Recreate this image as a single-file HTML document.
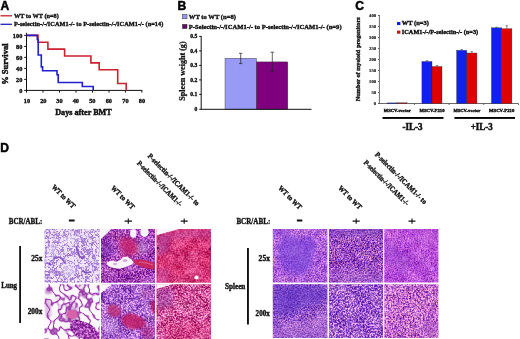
<!DOCTYPE html>
<html><head><meta charset="utf-8">
<style>
html,body{margin:0;padding:0;background:#fff;width:520px;height:339px;overflow:hidden}
svg{display:block;will-change:transform;filter:blur(0.3px)}
.s{font-family:"Liberation Serif",serif;font-weight:bold;fill:#111;stroke:#111;stroke-width:0.36px}
.L{font-family:"Liberation Sans",sans-serif;font-weight:bold;fill:#000;stroke:#000;stroke-width:0.5px}
</style></head><body>
<svg width="520" height="339" viewBox="0 0 520 339">
<rect width="520" height="339" fill="#fff"/>

<!-- ===== Panel A ===== -->
<text class="L" x="0.6" y="9.6" font-size="12.1">A</text>
<line x1="0.5" y1="15.8" x2="12" y2="15.8" stroke="#c2202c" stroke-width="1.3"/>
<text class="s" x="13.9" y="18.1" font-size="6.3" textLength="44.9" lengthAdjust="spacingAndGlyphs">WT to WT (n=8)</text>
<line x1="0.5" y1="24.3" x2="12" y2="24.3" stroke="#2020c0" stroke-width="1.3"/>
<text class="s" x="13.9" y="26.4" font-size="6.3" textLength="149.4" lengthAdjust="spacingAndGlyphs">P-selectin-/-/ICAM1-/- to P-selectin-/-/ICAM1-/- (n=14)</text>

<g stroke="#111" stroke-width="1" fill="none">
  <line x1="26.5" y1="32.8" x2="26.5" y2="90.9"/>
  <line x1="24.2" y1="90.4" x2="142.3" y2="90.4"/>
  <path d="M24.2,35.4H26.5M24.2,46.4H26.5M24.2,57.4H26.5M24.2,68.4H26.5M24.2,79.4H26.5"/>
  <path d="M43,90.4V92.6M59.5,90.4V92.6M76,90.4V92.6M92.5,90.4V92.6M109,90.4V92.6M125.4,90.4V92.6M141.9,90.4V92.6M26.5,90.4V92.6"/>
</g>
<g class="s" font-size="6.3" text-anchor="end">
  <text x="22.3" y="37.6">100</text>
  <text x="22.3" y="48.6">80</text>
  <text x="22.3" y="59.6">60</text>
  <text x="22.3" y="70.6">40</text>
  <text x="22.3" y="81.6">20</text>
  <text x="22.3" y="92.6">0</text>
</g>
<g class="s" font-size="6.3" text-anchor="middle">
  <text x="27" y="102.6">10</text>
  <text x="43.3" y="102.6">20</text>
  <text x="59.5" y="102.6">30</text>
  <text x="75.8" y="102.6">40</text>
  <text x="92.3" y="102.6">50</text>
  <text x="108.8" y="102.6">60</text>
  <text x="125.4" y="102.6">70</text>
  <text x="142" y="102.6">80</text>
</g>
<text class="s" style="stroke-width:0.45px" x="55.2" y="114.6" font-size="8.4" textLength="56.6" lengthAdjust="spacingAndGlyphs">Days after BMT</text>
<text class="s" style="stroke-width:0.45px" transform="translate(8.2,84.8) rotate(-90)" x="0" y="0" font-size="8.6" textLength="41.3" lengthAdjust="spacingAndGlyphs">% Survival</text>
<path d="M26.5,35.40 H38.0 V42.27 H47.9 V49.15 H64.6 V56.03 H90.9 V62.90 H99.2 V69.78 H117.7 V83.53 H126.2 V90.40" fill="none" stroke="#cc2030" stroke-width="1.6"/>
<path d="M26.5,35.40 H37.3 V39.33 H38.2 V55.04 H41.3 V66.83 H42.6 V70.76 H57.0 V74.69 H58.2 V82.54 H82.3 V86.47 H93.2 V90.40" fill="none" stroke="#2222cc" stroke-width="1.6"/>

<!-- ===== Panel B ===== -->
<text class="L" x="177.6" y="9.5" font-size="12.1">B</text>
<rect x="182.4" y="14.5" width="4.6" height="4.3" fill="#9a9af2" stroke="#333" stroke-width="0.5"/>
<text class="s" x="188.8" y="18.7" font-size="6.4" textLength="47.1" lengthAdjust="spacingAndGlyphs">WT to WT (n=8)</text>
<rect x="182.4" y="24.3" width="4.6" height="4.3" fill="#5a1060" stroke="#333" stroke-width="0.5"/>
<text class="s" x="188.8" y="28.6" font-size="6.4" textLength="152.8" lengthAdjust="spacingAndGlyphs">P-Selectin-/-/ICAM1-/- to P-selectin-/-/ICAM1-/- (n=9)</text>

<rect x="225" y="58.2" width="31.4" height="51" fill="#9999f6" stroke="#333" stroke-width="0.4"/>
<rect x="256.4" y="61.9" width="31.4" height="47.3" fill="#7e007e" stroke="#333" stroke-width="0.4"/>
<g stroke="#111" stroke-width="1" fill="none">
  <line x1="201.2" y1="36" x2="201.2" y2="109.5"/>
  <line x1="199.3" y1="109.3" x2="311.5" y2="109.3"/>
  <path d="M199.2,36.4H201.2M199.2,50.9H201.2M199.2,65.4H201.2M199.2,79.9H201.2M199.2,94.4H201.2"/>
</g>
<g stroke="#222" stroke-width="0.7" fill="none">
  <path d="M240.7,53.3V63.6M239,53.3H242.4M239,63.6H242.4"/>
  <path d="M272.3,52.2V71.4M270.6,52.2H274M270.6,71.4H274"/>
</g>
<g class="s" font-size="5.6" text-anchor="end">
  <text x="197.2" y="38.3">0.5</text>
  <text x="197.2" y="52.8">0.4</text>
  <text x="197.2" y="67.3">0.3</text>
  <text x="197.2" y="81.8">0.2</text>
  <text x="197.2" y="96.3">0.1</text>
  <text x="197.2" y="111.2">0</text>
</g>
<text class="s" style="stroke-width:0.25px" transform="translate(184.7,100.7) rotate(-90)" x="0" y="0" font-size="7.8" textLength="59.3" lengthAdjust="spacingAndGlyphs">Spleen weight (g)</text>

<!-- ===== Panel C ===== -->
<text class="L" x="355.2" y="9.7" font-size="12.1">C</text>
<rect x="397" y="22" width="3.4" height="3.1" fill="#1020e0"/>
<text class="s" x="401.8" y="25.4" font-size="5.8" textLength="27.1" lengthAdjust="spacingAndGlyphs">WT (n=3)</text>
<rect x="397" y="30.6" width="3.4" height="3.1" fill="#c01818"/>
<text class="s" x="401.8" y="34" font-size="5.8" textLength="76.4" lengthAdjust="spacingAndGlyphs">ICAM1-/-/P-selectin-/- (n=3)</text>

<g stroke="#444" stroke-width="0.8" fill="none">
  <line x1="379.4" y1="14.9" x2="379.4" y2="103.8"/>
  <line x1="378" y1="103.5" x2="518.5" y2="103.5"/>
  <path d="M378,15.5H379.4M378,26.5H379.4M378,37.5H379.4M378,48.5H379.4M378,59.5H379.4M378,70.5H379.4M378,81.5H379.4M378,92.5H379.4"/>
  <path d="M414.4,103.5V105M449.1,103.5V105M483.8,103.5V105M518.5,103.5V105"/>
</g>
<g class="s" font-size="4.6" text-anchor="end" style="stroke-width:0.15px">
  <text x="376" y="16.9">400</text>
  <text x="376" y="27.9">350</text>
  <text x="376" y="38.9">300</text>
  <text x="376" y="49.9">250</text>
  <text x="376" y="60.9">200</text>
  <text x="376" y="71.9">150</text>
  <text x="376" y="82.9">100</text>
  <text x="376" y="93.9">50</text>
  <text x="376" y="104.9">0</text>
</g>
<text class="s" transform="translate(360.3,101.3) rotate(-90)" x="0" y="0" font-size="6" textLength="84" lengthAdjust="spacingAndGlyphs">Number of myeloid progenitors</text>
<g stroke="#222" stroke-width="0.3">
  <rect x="387" y="102.9" width="10" height="0.6" fill="#1020e0"/>
  <rect x="397" y="102.8" width="10" height="0.7" fill="#d00000"/>
  <rect x="421.9" y="61.5" width="10.1" height="42" fill="#1020f0"/>
  <rect x="432" y="66.5" width="10" height="37" fill="#e00000"/>
  <rect x="456.6" y="50.3" width="10.2" height="53.2" fill="#1020f0"/>
  <rect x="466.8" y="53" width="10.1" height="50.5" fill="#e00000"/>
  <rect x="491.4" y="27.8" width="10.3" height="75.7" fill="#1020f0"/>
  <rect x="501.7" y="28.7" width="10.2" height="74.8" fill="#e00000"/>
</g>
<g stroke="#222" stroke-width="0.5">
  <path d="M427,60.6V61.5M425.8,60.6H428.2"/>
  <path d="M437,65.5V66.5M435.8,65.5H438.2"/>
  <path d="M461.7,49.6V50.3M460.5,49.6H462.9"/>
  <path d="M471.8,51.6V53M470.6,51.6H473"/>
  <path d="M496.5,27.2V27.8M495.3,27.2H497.7"/>
  <path d="M506.8,25.7V28.7M505.6,25.7H508"/>
</g>
<g class="s" font-size="4">
  <text x="383.8" y="111.7" textLength="27" lengthAdjust="spacingAndGlyphs">MSCV-vector</text>
  <text x="419.5" y="111.7" textLength="25" lengthAdjust="spacingAndGlyphs">MSCV-P210</text>
  <text x="453.4" y="111.7" textLength="27" lengthAdjust="spacingAndGlyphs">MSCV-vector</text>
  <text x="489" y="111.7" textLength="25.3" lengthAdjust="spacingAndGlyphs">MSCV-P210</text>
</g>
<rect x="382.5" y="117" width="61" height="1.9" fill="#000"/>
<rect x="454.4" y="117" width="60.6" height="1.9" fill="#000"/>
<text class="s" style="stroke-width:0.5px" x="402.4" y="130.4" font-size="9.6" textLength="20.2" lengthAdjust="spacingAndGlyphs">-IL-3</text>
<text class="s" style="stroke-width:0.5px" x="470.7" y="130.4" font-size="9.6" textLength="21.9" lengthAdjust="spacingAndGlyphs">+IL-3</text>

<!-- ===== Panel D labels ===== -->
<text class="L" x="0.3" y="152.3" font-size="12.1">D</text>
<g class="s" font-size="7.4">
  <text transform="translate(51.2,187.5) rotate(45)" textLength="30.2" lengthAdjust="spacingAndGlyphs">WT to WT</text>
  <text transform="translate(110.6,188.5) rotate(45)" textLength="30.2" lengthAdjust="spacingAndGlyphs">WT to WT</text>
  <text transform="translate(147.2,156.6) rotate(45)" textLength="70" lengthAdjust="spacingAndGlyphs">P-selectin-/-/ICAM1-/- to</text>
  <text transform="translate(136.6,163.7) rotate(45)" textLength="60.8" lengthAdjust="spacingAndGlyphs">P-selectin-/-/ICAM1-/-</text>
  <text transform="translate(277.7,188.5) rotate(45)" textLength="30.2" lengthAdjust="spacingAndGlyphs">WT to WT</text>
  <text transform="translate(337.7,188.5) rotate(45)" textLength="30.2" lengthAdjust="spacingAndGlyphs">WT to WT</text>
  <text transform="translate(374.5,155) rotate(45)" textLength="70" lengthAdjust="spacingAndGlyphs">P-selectin-/-/ICAM1-/- to</text>
  <text transform="translate(363.3,163) rotate(45)" textLength="60.8" lengthAdjust="spacingAndGlyphs">P-selectin-/-/ICAM1-/-</text>
</g>
<g class="s" font-size="8">
  <text x="8.7" y="223.7" textLength="33.6" lengthAdjust="spacingAndGlyphs">BCR/ABL:</text>
  <text x="236.4" y="223.9" textLength="33.9" lengthAdjust="spacingAndGlyphs">BCR/ABL:</text>
</g>
<g class="s" font-size="7.5">
  <text x="1.3" y="287.9" textLength="15.7" lengthAdjust="spacingAndGlyphs">Lung</text>
  <text x="224.9" y="288.6" textLength="20.5" lengthAdjust="spacingAndGlyphs">Spleen</text>
  <text x="31.2" y="260.6" textLength="11.2" lengthAdjust="spacingAndGlyphs">25x</text>
  <text x="27.7" y="314.2" textLength="14.7" lengthAdjust="spacingAndGlyphs">200x</text>
  <text x="258.6" y="260.6" textLength="11.4" lengthAdjust="spacingAndGlyphs">25x</text>
  <text x="255.6" y="316.3" textLength="14.2" lengthAdjust="spacingAndGlyphs">200x</text>
</g>
<g fill="#111">
  <rect x="68.9" y="219.5" width="5.7" height="2"/>
  <rect x="296.9" y="219.5" width="5.4" height="2"/>
  <rect x="19.2" y="246" width="1.8" height="77"/>
  <rect x="247" y="248" width="1.9" height="76.5"/>
</g>
<g stroke="#111" stroke-width="1.1">
  <path d="M124.6,221.1H132M128.3,218.5V223.8"/>
  <path d="M180.8,221.1H187.7M184.2,218.5V223.8"/>
  <path d="M352.6,221.1H359.7M356.2,218.5V223.8"/>
  <path d="M408.5,221.1H415.4M412,218.5V223.8"/>
</g>
<!-- HISTO -->
<defs>
<filter id="fL11" x="43.5" y="228" width="57.0" height="55.69999999999999" filterUnits="userSpaceOnUse" color-interpolation-filters="sRGB">
<feTurbulence type="fractalNoise" baseFrequency="0.28" numOctaves="2" seed="3" result="n"/>
<feColorMatrix in="n" type="matrix" values="1 0 0 0 0 1 0 0 0 0 1 0 0 0 0 0 0 0 0 1"/>
<feComponentTransfer><feFuncR type="table" tableValues="0.945 0.945 0.945 0.945 0.945 0.945 0.945 0.945 0.945 0.945 0.945 0.945 0.945 0.945 0.943 0.934 0.908 0.848 0.753 0.654 0.612 0.654 0.753 0.848 0.908 0.934 0.943 0.945 0.945 0.945 0.945 0.945 0.945 0.945 0.945 0.945 0.945 0.945 0.945 0.945 0.945"/><feFuncG type="table" tableValues="0.902 0.902 0.902 0.902 0.902 0.902 0.902 0.902 0.902 0.902 0.902 0.902 0.902 0.901 0.899 0.887 0.850 0.767 0.635 0.499 0.439 0.499 0.635 0.767 0.850 0.887 0.899 0.901 0.902 0.902 0.902 0.902 0.902 0.902 0.902 0.902 0.902 0.902 0.902 0.902 0.902"/><feFuncB type="table" tableValues="0.976 0.976 0.976 0.976 0.976 0.976 0.976 0.976 0.976 0.976 0.976 0.976 0.976 0.976 0.975 0.971 0.959 0.930 0.884 0.836 0.816 0.836 0.884 0.930 0.959 0.971 0.975 0.976 0.976 0.976 0.976 0.976 0.976 0.976 0.976 0.976 0.976 0.976 0.976 0.976 0.976"/></feComponentTransfer>
<feGaussianBlur stdDeviation="0.35" result="A"/>

</filter>
<clipPath id="cL11"><rect x="44.5" y="229" width="55.00" height="53.70"/></clipPath>
<filter id="fL12" x="100" y="228" width="56" height="55.69999999999999" filterUnits="userSpaceOnUse" color-interpolation-filters="sRGB">
<feTurbulence type="fractalNoise" baseFrequency="0.07" numOctaves="2" seed="5" result="lo"/>
<feColorMatrix in="lo" type="matrix" values="1 0 0 0 0 1 0 0 0 0 1 0 0 0 0 0 0 0 0 1"/>
<feComponentTransfer result="A"><feFuncR type="table" tableValues="0.588 0.588 0.588 0.588 0.588 0.588 0.588 0.588 0.588 0.588 0.588 0.588 0.588 0.588 0.588 0.595 0.601 0.608 0.614 0.621 0.627 0.634 0.641 0.647 0.654 0.660 0.667 0.667 0.667 0.667 0.667 0.667 0.667 0.667 0.667 0.667 0.667 0.667 0.667 0.667 0.667"/><feFuncG type="table" tableValues="0.220 0.220 0.220 0.220 0.220 0.220 0.220 0.220 0.220 0.220 0.220 0.220 0.220 0.220 0.220 0.226 0.233 0.239 0.246 0.252 0.259 0.269 0.280 0.290 0.301 0.311 0.322 0.322 0.322 0.322 0.322 0.322 0.322 0.322 0.322 0.322 0.322 0.322 0.322 0.322 0.322"/><feFuncB type="table" tableValues="0.690 0.690 0.690 0.690 0.690 0.690 0.690 0.690 0.690 0.690 0.690 0.690 0.690 0.690 0.690 0.693 0.695 0.698 0.701 0.703 0.706 0.711 0.716 0.722 0.727 0.732 0.737 0.737 0.737 0.737 0.737 0.737 0.737 0.737 0.737 0.737 0.737 0.737 0.737 0.737 0.737"/></feComponentTransfer>
<feTurbulence type="fractalNoise" baseFrequency="0.6" numOctaves="2" seed="55" result="hi"/>
<feColorMatrix in="hi" type="matrix" values="2.500 0 0 0 -0.750  2.000 0 0 0 -0.500  1.125 0 0 0 -0.062  0 0 0 0 1"/>
<feComponentTransfer><feFuncR type="table" tableValues="0.1 0.3 0.5 0.8 1"/><feFuncG type="table" tableValues="0.1 0.3 0.5 0.8 1"/><feFuncB type="table" tableValues="0.1 0.3 0.5 0.8 1"/></feComponentTransfer>
<feGaussianBlur stdDeviation="0.4" result="B"/>
<feComposite in="A" in2="B" operator="arithmetic" k1="0" k2="1" k3="0.55" k4="-0.275" result="AB"/>
<feTurbulence type="fractalNoise" baseFrequency="0.12" numOctaves="2" seed="95" result="mid"/>
<feColorMatrix in="mid" type="matrix" values="2.5 0 0 0 -0.75  2.5 0 0 0 -0.75  2.5 0 0 0 -0.75  0 0 0 0 1" result="C"/>
<feComposite in="AB" in2="C" operator="arithmetic" k1="0" k2="1" k3="0.15" k4="-0.075"/>
</filter>
<clipPath id="cL12"><rect x="101" y="229" width="54.00" height="53.70"/></clipPath>
<filter id="fL13" x="155.5" y="228" width="56.5" height="55.69999999999999" filterUnits="userSpaceOnUse" color-interpolation-filters="sRGB">
<feTurbulence type="fractalNoise" baseFrequency="0.07" numOctaves="2" seed="7" result="lo"/>
<feColorMatrix in="lo" type="matrix" values="1 0 0 0 0 1 0 0 0 0 1 0 0 0 0 0 0 0 0 1"/>
<feComponentTransfer result="A"><feFuncR type="table" tableValues="0.816 0.816 0.816 0.816 0.816 0.816 0.816 0.816 0.816 0.816 0.816 0.816 0.816 0.816 0.816 0.820 0.824 0.827 0.831 0.835 0.839 0.843 0.847 0.851 0.855 0.859 0.863 0.863 0.863 0.863 0.863 0.863 0.863 0.863 0.863 0.863 0.863 0.863 0.863 0.863 0.863"/><feFuncG type="table" tableValues="0.188 0.188 0.188 0.188 0.188 0.188 0.188 0.188 0.188 0.188 0.188 0.188 0.188 0.188 0.188 0.193 0.199 0.204 0.209 0.214 0.220 0.231 0.243 0.255 0.267 0.278 0.290 0.290 0.290 0.290 0.290 0.290 0.290 0.290 0.290 0.290 0.290 0.290 0.290 0.290 0.290"/><feFuncB type="table" tableValues="0.431 0.431 0.431 0.431 0.431 0.431 0.431 0.431 0.431 0.431 0.431 0.431 0.431 0.431 0.431 0.439 0.447 0.455 0.463 0.471 0.478 0.488 0.497 0.506 0.515 0.524 0.533 0.533 0.533 0.533 0.533 0.533 0.533 0.533 0.533 0.533 0.533 0.533 0.533 0.533 0.533"/></feComponentTransfer>
<feTurbulence type="fractalNoise" baseFrequency="0.6" numOctaves="2" seed="57" result="hi"/>
<feColorMatrix in="hi" type="matrix" values="1.250 0 0 0 -0.125  2.500 0 0 0 -0.750  1.875 0 0 0 -0.438  0 0 0 0 1"/>
<feComponentTransfer><feFuncR type="table" tableValues="0.1 0.3 0.5 0.75 0.95"/><feFuncG type="table" tableValues="0.1 0.3 0.5 0.75 0.95"/><feFuncB type="table" tableValues="0.1 0.3 0.5 0.75 0.95"/></feComponentTransfer>
<feGaussianBlur stdDeviation="0.5" result="B"/>
<feComposite in="A" in2="B" operator="arithmetic" k1="0" k2="1" k3="0.32" k4="-0.160" result="AB"/>
<feTurbulence type="fractalNoise" baseFrequency="0.12" numOctaves="2" seed="97" result="mid"/>
<feColorMatrix in="mid" type="matrix" values="2.5 0 0 0 -0.75  2.5 0 0 0 -0.75  2.5 0 0 0 -0.75  0 0 0 0 1" result="C"/>
<feComposite in="AB" in2="C" operator="arithmetic" k1="0" k2="1" k3="0.15" k4="-0.075"/>
</filter>
<clipPath id="cL13"><rect x="156.5" y="229" width="54.50" height="53.70"/></clipPath>
<filter id="fL21" x="43.5" y="283.3" width="57.0" height="56.69999999999999" filterUnits="userSpaceOnUse" color-interpolation-filters="sRGB">
<feTurbulence type="fractalNoise" baseFrequency="0.1" numOctaves="2" seed="9" result="n"/>
<feColorMatrix in="n" type="matrix" values="1 0 0 0 0 1 0 0 0 0 1 0 0 0 0 0 0 0 0 1"/>
<feComponentTransfer><feFuncR type="table" tableValues="0.992 0.992 0.992 0.992 0.992 0.992 0.992 0.992 0.992 0.992 0.992 0.992 0.992 0.992 0.992 0.991 0.985 0.950 0.846 0.684 0.596 0.684 0.846 0.950 0.985 0.991 0.992 0.992 0.992 0.992 0.992 0.992 0.992 0.992 0.992 0.992 0.992 0.992 0.992 0.992 0.992"/><feFuncG type="table" tableValues="0.980 0.980 0.980 0.980 0.980 0.980 0.980 0.980 0.980 0.980 0.980 0.980 0.980 0.980 0.980 0.979 0.966 0.899 0.695 0.376 0.204 0.376 0.695 0.899 0.966 0.979 0.980 0.980 0.980 0.980 0.980 0.980 0.980 0.980 0.980 0.980 0.980 0.980 0.980 0.980 0.980"/><feFuncB type="table" tableValues="0.992 0.992 0.992 0.992 0.992 0.992 0.992 0.992 0.992 0.992 0.992 0.992 0.992 0.992 0.992 0.992 0.986 0.957 0.870 0.733 0.659 0.733 0.870 0.957 0.986 0.992 0.992 0.992 0.992 0.992 0.992 0.992 0.992 0.992 0.992 0.992 0.992 0.992 0.992 0.992 0.992"/></feComponentTransfer>
<feGaussianBlur stdDeviation="0.3" result="A"/>

</filter>
<clipPath id="cL21"><rect x="44.5" y="284.3" width="55.00" height="54.70"/></clipPath>
<filter id="fL22" x="100" y="283.3" width="56" height="56.69999999999999" filterUnits="userSpaceOnUse" color-interpolation-filters="sRGB">
<feTurbulence type="fractalNoise" baseFrequency="0.07" numOctaves="2" seed="11" result="lo"/>
<feColorMatrix in="lo" type="matrix" values="1 0 0 0 0 1 0 0 0 0 1 0 0 0 0 0 0 0 0 1"/>
<feComponentTransfer result="A"><feFuncR type="table" tableValues="0.612 0.612 0.612 0.612 0.612 0.612 0.612 0.612 0.612 0.612 0.612 0.612 0.612 0.612 0.612 0.618 0.625 0.631 0.638 0.644 0.651 0.659 0.667 0.675 0.682 0.690 0.698 0.698 0.698 0.698 0.698 0.698 0.698 0.698 0.698 0.698 0.698 0.698 0.698 0.698 0.698"/><feFuncG type="table" tableValues="0.345 0.345 0.345 0.345 0.345 0.345 0.345 0.345 0.345 0.345 0.345 0.345 0.345 0.345 0.345 0.353 0.361 0.369 0.376 0.384 0.392 0.403 0.413 0.424 0.434 0.444 0.455 0.455 0.455 0.455 0.455 0.455 0.455 0.455 0.455 0.455 0.455 0.455 0.455 0.455 0.455"/><feFuncB type="table" tableValues="0.784 0.784 0.784 0.784 0.784 0.784 0.784 0.784 0.784 0.784 0.784 0.784 0.784 0.784 0.784 0.787 0.790 0.792 0.795 0.797 0.800 0.804 0.808 0.812 0.816 0.820 0.824 0.824 0.824 0.824 0.824 0.824 0.824 0.824 0.824 0.824 0.824 0.824 0.824 0.824 0.824"/></feComponentTransfer>
<feTurbulence type="fractalNoise" baseFrequency="0.6" numOctaves="2" seed="61" result="hi"/>
<feColorMatrix in="hi" type="matrix" values="2.250 0 0 0 -0.625  2.125 0 0 0 -0.562  1.125 0 0 0 -0.062  0 0 0 0 1"/>
<feComponentTransfer><feFuncR type="table" tableValues="0.1 0.3 0.5 0.8 1"/><feFuncG type="table" tableValues="0.1 0.3 0.5 0.8 1"/><feFuncB type="table" tableValues="0.1 0.3 0.5 0.8 1"/></feComponentTransfer>
<feGaussianBlur stdDeviation="0.4" result="B"/>
<feComposite in="A" in2="B" operator="arithmetic" k1="0" k2="1" k3="0.6" k4="-0.300" result="AB"/>
<feTurbulence type="fractalNoise" baseFrequency="0.12" numOctaves="2" seed="101" result="mid"/>
<feColorMatrix in="mid" type="matrix" values="2.5 0 0 0 -0.75  2.5 0 0 0 -0.75  2.5 0 0 0 -0.75  0 0 0 0 1" result="C"/>
<feComposite in="AB" in2="C" operator="arithmetic" k1="0" k2="1" k3="0.2" k4="-0.1"/>
</filter>
<clipPath id="cL22"><rect x="101" y="284.3" width="54.00" height="54.70"/></clipPath>
<filter id="fL23" x="155.5" y="283.3" width="56.5" height="56.69999999999999" filterUnits="userSpaceOnUse" color-interpolation-filters="sRGB">
<feTurbulence type="fractalNoise" baseFrequency="0.07" numOctaves="2" seed="13" result="lo"/>
<feColorMatrix in="lo" type="matrix" values="1 0 0 0 0 1 0 0 0 0 1 0 0 0 0 0 0 0 0 1"/>
<feComponentTransfer result="A"><feFuncR type="table" tableValues="0.800 0.800 0.800 0.800 0.800 0.800 0.800 0.800 0.800 0.800 0.800 0.800 0.800 0.800 0.800 0.804 0.808 0.812 0.816 0.820 0.824 0.827 0.831 0.835 0.839 0.843 0.847 0.847 0.847 0.847 0.847 0.847 0.847 0.847 0.847 0.847 0.847 0.847 0.847 0.847 0.847"/><feFuncG type="table" tableValues="0.282 0.282 0.282 0.282 0.282 0.282 0.282 0.282 0.282 0.282 0.282 0.282 0.282 0.282 0.282 0.290 0.298 0.306 0.314 0.322 0.329 0.340 0.350 0.361 0.371 0.382 0.392 0.392 0.392 0.392 0.392 0.392 0.392 0.392 0.392 0.392 0.392 0.392 0.392 0.392 0.392"/><feFuncB type="table" tableValues="0.565 0.565 0.565 0.565 0.565 0.565 0.565 0.565 0.565 0.565 0.565 0.565 0.565 0.565 0.565 0.570 0.575 0.580 0.586 0.591 0.596 0.604 0.612 0.620 0.627 0.635 0.643 0.643 0.643 0.643 0.643 0.643 0.643 0.643 0.643 0.643 0.643 0.643 0.643 0.643 0.643"/></feComponentTransfer>
<feTurbulence type="fractalNoise" baseFrequency="0.6" numOctaves="2" seed="63" result="hi"/>
<feColorMatrix in="hi" type="matrix" values="1.750 0 0 0 -0.375  2.500 0 0 0 -0.750  1.500 0 0 0 -0.250  0 0 0 0 1"/>
<feComponentTransfer><feFuncR type="table" tableValues="0.1 0.3 0.5 0.8 1"/><feFuncG type="table" tableValues="0.1 0.3 0.5 0.8 1"/><feFuncB type="table" tableValues="0.1 0.3 0.5 0.8 1"/></feComponentTransfer>
<feGaussianBlur stdDeviation="0.4" result="B"/>
<feComposite in="A" in2="B" operator="arithmetic" k1="0" k2="1" k3="0.65" k4="-0.325" result="AB"/>
<feTurbulence type="fractalNoise" baseFrequency="0.12" numOctaves="2" seed="103" result="mid"/>
<feColorMatrix in="mid" type="matrix" values="2.5 0 0 0 -0.75  2.5 0 0 0 -0.75  2.5 0 0 0 -0.75  0 0 0 0 1" result="C"/>
<feComposite in="AB" in2="C" operator="arithmetic" k1="0" k2="1" k3="0.2" k4="-0.1"/>
</filter>
<clipPath id="cL23"><rect x="156.5" y="284.3" width="54.50" height="54.70"/></clipPath>
<filter id="fS11" x="271.8" y="228" width="56.599999999999966" height="55.5" filterUnits="userSpaceOnUse" color-interpolation-filters="sRGB">
<feTurbulence type="fractalNoise" baseFrequency="0.07" numOctaves="2" seed="15" result="lo"/>
<feColorMatrix in="lo" type="matrix" values="1 0 0 0 0 1 0 0 0 0 1 0 0 0 0 0 0 0 0 1"/>
<feComponentTransfer result="A"><feFuncR type="table" tableValues="0.659 0.659 0.659 0.659 0.659 0.659 0.659 0.659 0.659 0.659 0.659 0.659 0.659 0.659 0.659 0.664 0.669 0.675 0.680 0.685 0.690 0.697 0.703 0.710 0.716 0.723 0.729 0.729 0.729 0.729 0.729 0.729 0.729 0.729 0.729 0.729 0.729 0.729 0.729 0.729 0.729"/><feFuncG type="table" tableValues="0.361 0.361 0.361 0.361 0.361 0.361 0.361 0.361 0.361 0.361 0.361 0.361 0.361 0.361 0.361 0.366 0.371 0.376 0.382 0.387 0.392 0.400 0.408 0.416 0.424 0.431 0.439 0.439 0.439 0.439 0.439 0.439 0.439 0.439 0.439 0.439 0.439 0.439 0.439 0.439 0.439"/><feFuncB type="table" tableValues="0.847 0.847 0.847 0.847 0.847 0.847 0.847 0.847 0.847 0.847 0.847 0.847 0.847 0.847 0.847 0.848 0.850 0.851 0.852 0.854 0.855 0.858 0.860 0.863 0.865 0.868 0.871 0.871 0.871 0.871 0.871 0.871 0.871 0.871 0.871 0.871 0.871 0.871 0.871 0.871 0.871"/></feComponentTransfer>
<feTurbulence type="fractalNoise" baseFrequency="0.7" numOctaves="2" seed="65" result="hi"/>
<feColorMatrix in="hi" type="matrix" values="2.500 0 0 0 -0.750  1.875 0 0 0 -0.438  0.750 0 0 0 0.125  0 0 0 0 1"/>
<feComponentTransfer><feFuncR type="table" tableValues="0 0.25 0.5 0.75 1"/><feFuncG type="table" tableValues="0 0.25 0.5 0.75 1"/><feFuncB type="table" tableValues="0 0.25 0.5 0.75 1"/></feComponentTransfer>
<feGaussianBlur stdDeviation="0.4" result="B"/>
<feComposite in="A" in2="B" operator="arithmetic" k1="0" k2="1" k3="0.42" k4="-0.210" result="AB"/>
<feTurbulence type="fractalNoise" baseFrequency="0.18" numOctaves="2" seed="105" result="mid"/>
<feColorMatrix in="mid" type="matrix" values="2.5 0 0 0 -0.75  2.5 0 0 0 -0.75  2.5 0 0 0 -0.75  0 0 0 0 1" result="C"/>
<feComposite in="AB" in2="C" operator="arithmetic" k1="0" k2="1" k3="0.12" k4="-0.06"/>
</filter>
<clipPath id="cS11"><rect x="272.8" y="229" width="54.60" height="53.50"/></clipPath>
<filter id="fS12" x="327.9" y="228" width="56.200000000000045" height="55.5" filterUnits="userSpaceOnUse" color-interpolation-filters="sRGB">
<feTurbulence type="fractalNoise" baseFrequency="0.07" numOctaves="2" seed="17" result="lo"/>
<feColorMatrix in="lo" type="matrix" values="1 0 0 0 0 1 0 0 0 0 1 0 0 0 0 0 0 0 0 1"/>
<feComponentTransfer result="A"><feFuncR type="table" tableValues="0.580 0.580 0.580 0.580 0.580 0.580 0.580 0.580 0.580 0.580 0.580 0.580 0.580 0.580 0.580 0.586 0.591 0.596 0.601 0.607 0.612 0.618 0.625 0.631 0.638 0.644 0.651 0.651 0.651 0.651 0.651 0.651 0.651 0.651 0.651 0.651 0.651 0.651 0.651 0.651 0.651"/><feFuncG type="table" tableValues="0.282 0.282 0.282 0.282 0.282 0.282 0.282 0.282 0.282 0.282 0.282 0.282 0.282 0.282 0.282 0.289 0.295 0.302 0.308 0.315 0.322 0.331 0.340 0.349 0.358 0.367 0.376 0.376 0.376 0.376 0.376 0.376 0.376 0.376 0.376 0.376 0.376 0.376 0.376 0.376 0.376"/><feFuncB type="table" tableValues="0.753 0.753 0.753 0.753 0.753 0.753 0.753 0.753 0.753 0.753 0.753 0.753 0.753 0.753 0.753 0.756 0.758 0.761 0.763 0.766 0.769 0.771 0.774 0.776 0.779 0.782 0.784 0.784 0.784 0.784 0.784 0.784 0.784 0.784 0.784 0.784 0.784 0.784 0.784 0.784 0.784"/></feComponentTransfer>
<feTurbulence type="fractalNoise" baseFrequency="0.7" numOctaves="2" seed="67" result="hi"/>
<feColorMatrix in="hi" type="matrix" values="2.500 0 0 0 -0.750  1.875 0 0 0 -0.438  0.875 0 0 0 0.062  0 0 0 0 1"/>
<feComponentTransfer><feFuncR type="table" tableValues="0 0.25 0.5 0.75 1"/><feFuncG type="table" tableValues="0 0.25 0.5 0.75 1"/><feFuncB type="table" tableValues="0 0.25 0.5 0.75 1"/></feComponentTransfer>
<feGaussianBlur stdDeviation="0.4" result="B"/>
<feComposite in="A" in2="B" operator="arithmetic" k1="0" k2="1" k3="0.6" k4="-0.300" result="AB"/>
<feTurbulence type="fractalNoise" baseFrequency="0.18" numOctaves="2" seed="107" result="mid"/>
<feColorMatrix in="mid" type="matrix" values="2.5 0 0 0 -0.75  2.5 0 0 0 -0.75  2.5 0 0 0 -0.75  0 0 0 0 1" result="C"/>
<feComposite in="AB" in2="C" operator="arithmetic" k1="0" k2="1" k3="0.12" k4="-0.06"/>
</filter>
<clipPath id="cS12"><rect x="328.9" y="229" width="54.20" height="53.50"/></clipPath>
<filter id="fS13" x="383.3" y="228" width="56.099999999999966" height="55.5" filterUnits="userSpaceOnUse" color-interpolation-filters="sRGB">
<feTurbulence type="fractalNoise" baseFrequency="0.07" numOctaves="2" seed="19" result="lo"/>
<feColorMatrix in="lo" type="matrix" values="1 0 0 0 0 1 0 0 0 0 1 0 0 0 0 0 0 0 0 1"/>
<feComponentTransfer result="A"><feFuncR type="table" tableValues="0.698 0.698 0.698 0.698 0.698 0.698 0.698 0.698 0.698 0.698 0.698 0.698 0.698 0.698 0.698 0.703 0.708 0.714 0.719 0.724 0.729 0.735 0.740 0.745 0.750 0.756 0.761 0.761 0.761 0.761 0.761 0.761 0.761 0.761 0.761 0.761 0.761 0.761 0.761 0.761 0.761"/><feFuncG type="table" tableValues="0.282 0.282 0.282 0.282 0.282 0.282 0.282 0.282 0.282 0.282 0.282 0.282 0.282 0.282 0.282 0.289 0.295 0.302 0.308 0.315 0.322 0.331 0.340 0.349 0.358 0.367 0.376 0.376 0.376 0.376 0.376 0.376 0.376 0.376 0.376 0.376 0.376 0.376 0.376 0.376 0.376"/><feFuncB type="table" tableValues="0.839 0.839 0.839 0.839 0.839 0.839 0.839 0.839 0.839 0.839 0.839 0.839 0.839 0.839 0.839 0.842 0.844 0.847 0.850 0.852 0.855 0.856 0.858 0.859 0.860 0.861 0.863 0.863 0.863 0.863 0.863 0.863 0.863 0.863 0.863 0.863 0.863 0.863 0.863 0.863 0.863"/></feComponentTransfer>
<feTurbulence type="fractalNoise" baseFrequency="0.7" numOctaves="2" seed="69" result="hi"/>
<feColorMatrix in="hi" type="matrix" values="2.250 0 0 0 -0.625  1.750 0 0 0 -0.375  0.750 0 0 0 0.125  0 0 0 0 1"/>
<feComponentTransfer><feFuncR type="table" tableValues="0 0.25 0.5 0.7 0.9"/><feFuncG type="table" tableValues="0 0.25 0.5 0.7 0.9"/><feFuncB type="table" tableValues="0 0.25 0.5 0.7 0.9"/></feComponentTransfer>
<feGaussianBlur stdDeviation="0.4" result="B"/>
<feComposite in="A" in2="B" operator="arithmetic" k1="0" k2="1" k3="0.42" k4="-0.210" result="AB"/>
<feTurbulence type="fractalNoise" baseFrequency="0.18" numOctaves="2" seed="109" result="mid"/>
<feColorMatrix in="mid" type="matrix" values="2.5 0 0 0 -0.75  2.5 0 0 0 -0.75  2.5 0 0 0 -0.75  0 0 0 0 1" result="C"/>
<feComposite in="AB" in2="C" operator="arithmetic" k1="0" k2="1" k3="0.12" k4="-0.06"/>
</filter>
<clipPath id="cS13"><rect x="384.3" y="229" width="54.10" height="53.50"/></clipPath>
<filter id="fS21" x="271.8" y="283.2" width="56.599999999999966" height="55.80000000000001" filterUnits="userSpaceOnUse" color-interpolation-filters="sRGB">
<feTurbulence type="fractalNoise" baseFrequency="0.07" numOctaves="2" seed="21" result="lo"/>
<feColorMatrix in="lo" type="matrix" values="1 0 0 0 0 1 0 0 0 0 1 0 0 0 0 0 0 0 0 1"/>
<feComponentTransfer result="A"><feFuncR type="table" tableValues="0.541 0.541 0.541 0.541 0.541 0.541 0.541 0.541 0.541 0.541 0.541 0.541 0.541 0.541 0.541 0.549 0.557 0.565 0.573 0.580 0.588 0.597 0.607 0.616 0.625 0.634 0.643 0.643 0.643 0.643 0.643 0.643 0.643 0.643 0.643 0.643 0.643 0.643 0.643 0.643 0.643"/><feFuncG type="table" tableValues="0.298 0.298 0.298 0.298 0.298 0.298 0.298 0.298 0.298 0.298 0.298 0.298 0.298 0.298 0.298 0.306 0.314 0.322 0.329 0.337 0.345 0.354 0.363 0.373 0.382 0.391 0.400 0.400 0.400 0.400 0.400 0.400 0.400 0.400 0.400 0.400 0.400 0.400 0.400 0.400 0.400"/><feFuncB type="table" tableValues="0.784 0.784 0.784 0.784 0.784 0.784 0.784 0.784 0.784 0.784 0.784 0.784 0.784 0.784 0.784 0.787 0.790 0.792 0.795 0.797 0.800 0.803 0.805 0.808 0.810 0.813 0.816 0.816 0.816 0.816 0.816 0.816 0.816 0.816 0.816 0.816 0.816 0.816 0.816 0.816 0.816"/></feComponentTransfer>
<feTurbulence type="fractalNoise" baseFrequency="0.7" numOctaves="2" seed="71" result="hi"/>
<feColorMatrix in="hi" type="matrix" values="2.500 0 0 0 -0.750  1.875 0 0 0 -0.438  0.875 0 0 0 0.062  0 0 0 0 1"/>
<feComponentTransfer><feFuncR type="table" tableValues="0 0.25 0.5 0.75 1"/><feFuncG type="table" tableValues="0 0.25 0.5 0.75 1"/><feFuncB type="table" tableValues="0 0.25 0.5 0.75 1"/></feComponentTransfer>
<feGaussianBlur stdDeviation="0.4" result="B"/>
<feComposite in="A" in2="B" operator="arithmetic" k1="0" k2="1" k3="0.55" k4="-0.275" result="AB"/>
<feTurbulence type="fractalNoise" baseFrequency="0.18" numOctaves="2" seed="111" result="mid"/>
<feColorMatrix in="mid" type="matrix" values="2.5 0 0 0 -0.75  2.5 0 0 0 -0.75  2.5 0 0 0 -0.75  0 0 0 0 1" result="C"/>
<feComposite in="AB" in2="C" operator="arithmetic" k1="0" k2="1" k3="0.12" k4="-0.06"/>
</filter>
<clipPath id="cS21"><rect x="272.8" y="284.2" width="54.60" height="53.80"/></clipPath>
<filter id="fS22" x="327.9" y="283.2" width="56.200000000000045" height="55.80000000000001" filterUnits="userSpaceOnUse" color-interpolation-filters="sRGB">
<feTurbulence type="fractalNoise" baseFrequency="0.07" numOctaves="2" seed="23" result="lo"/>
<feColorMatrix in="lo" type="matrix" values="1 0 0 0 0 1 0 0 0 0 1 0 0 0 0 0 0 0 0 1"/>
<feComponentTransfer result="A"><feFuncR type="table" tableValues="0.565 0.565 0.565 0.565 0.565 0.565 0.565 0.565 0.565 0.565 0.565 0.565 0.565 0.565 0.565 0.571 0.578 0.584 0.591 0.597 0.604 0.612 0.620 0.627 0.635 0.643 0.651 0.651 0.651 0.651 0.651 0.651 0.651 0.651 0.651 0.651 0.651 0.651 0.651 0.651 0.651"/><feFuncG type="table" tableValues="0.314 0.314 0.314 0.314 0.314 0.314 0.314 0.314 0.314 0.314 0.314 0.314 0.314 0.314 0.314 0.322 0.329 0.337 0.345 0.353 0.361 0.370 0.379 0.388 0.397 0.407 0.416 0.416 0.416 0.416 0.416 0.416 0.416 0.416 0.416 0.416 0.416 0.416 0.416 0.416 0.416"/><feFuncB type="table" tableValues="0.784 0.784 0.784 0.784 0.784 0.784 0.784 0.784 0.784 0.784 0.784 0.784 0.784 0.784 0.784 0.787 0.790 0.792 0.795 0.797 0.800 0.803 0.805 0.808 0.810 0.813 0.816 0.816 0.816 0.816 0.816 0.816 0.816 0.816 0.816 0.816 0.816 0.816 0.816 0.816 0.816"/></feComponentTransfer>
<feTurbulence type="fractalNoise" baseFrequency="0.6" numOctaves="2" seed="73" result="hi"/>
<feColorMatrix in="hi" type="matrix" values="2.500 0 0 0 -0.750  2.000 0 0 0 -0.500  1.000 0 0 0 0.000  0 0 0 0 1"/>
<feComponentTransfer><feFuncR type="table" tableValues="0.1 0.3 0.5 0.8 1"/><feFuncG type="table" tableValues="0.1 0.3 0.5 0.8 1"/><feFuncB type="table" tableValues="0.1 0.3 0.5 0.8 1"/></feComponentTransfer>
<feGaussianBlur stdDeviation="0.45" result="B"/>
<feComposite in="A" in2="B" operator="arithmetic" k1="0" k2="1" k3="0.65" k4="-0.325" result="AB"/>
<feTurbulence type="fractalNoise" baseFrequency="0.18" numOctaves="2" seed="113" result="mid"/>
<feColorMatrix in="mid" type="matrix" values="2.5 0 0 0 -0.75  2.5 0 0 0 -0.75  2.5 0 0 0 -0.75  0 0 0 0 1" result="C"/>
<feComposite in="AB" in2="C" operator="arithmetic" k1="0" k2="1" k3="0.12" k4="-0.06"/>
</filter>
<clipPath id="cS22"><rect x="328.9" y="284.2" width="54.20" height="53.80"/></clipPath>
<filter id="fS23" x="383.3" y="283.2" width="56.099999999999966" height="55.80000000000001" filterUnits="userSpaceOnUse" color-interpolation-filters="sRGB">
<feTurbulence type="fractalNoise" baseFrequency="0.07" numOctaves="2" seed="25" result="lo"/>
<feColorMatrix in="lo" type="matrix" values="1 0 0 0 0 1 0 0 0 0 1 0 0 0 0 0 0 0 0 1"/>
<feComponentTransfer result="A"><feFuncR type="table" tableValues="0.737 0.737 0.737 0.737 0.737 0.737 0.737 0.737 0.737 0.737 0.737 0.737 0.737 0.737 0.737 0.742 0.748 0.753 0.758 0.763 0.769 0.774 0.779 0.784 0.790 0.795 0.800 0.800 0.800 0.800 0.800 0.800 0.800 0.800 0.800 0.800 0.800 0.800 0.800 0.800 0.800"/><feFuncG type="table" tableValues="0.392 0.392 0.392 0.392 0.392 0.392 0.392 0.392 0.392 0.392 0.392 0.392 0.392 0.392 0.392 0.399 0.405 0.412 0.418 0.425 0.431 0.441 0.450 0.459 0.468 0.477 0.486 0.486 0.486 0.486 0.486 0.486 0.486 0.486 0.486 0.486 0.486 0.486 0.486 0.486 0.486"/><feFuncB type="table" tableValues="0.784 0.784 0.784 0.784 0.784 0.784 0.784 0.784 0.784 0.784 0.784 0.784 0.784 0.784 0.784 0.787 0.790 0.792 0.795 0.797 0.800 0.804 0.808 0.812 0.816 0.820 0.824 0.824 0.824 0.824 0.824 0.824 0.824 0.824 0.824 0.824 0.824 0.824 0.824 0.824 0.824"/></feComponentTransfer>
<feTurbulence type="fractalNoise" baseFrequency="0.6" numOctaves="2" seed="75" result="hi"/>
<feColorMatrix in="hi" type="matrix" values="2.500 0 0 0 -0.750  1.875 0 0 0 -0.438  0.875 0 0 0 0.062  0 0 0 0 1"/>
<feComponentTransfer><feFuncR type="table" tableValues="0 0.25 0.5 0.75 1"/><feFuncG type="table" tableValues="0 0.25 0.5 0.75 1"/><feFuncB type="table" tableValues="0 0.25 0.5 0.75 1"/></feComponentTransfer>
<feGaussianBlur stdDeviation="0.45" result="B"/>
<feComposite in="A" in2="B" operator="arithmetic" k1="0" k2="1" k3="0.65" k4="-0.325" result="AB"/>
<feTurbulence type="fractalNoise" baseFrequency="0.18" numOctaves="2" seed="115" result="mid"/>
<feColorMatrix in="mid" type="matrix" values="2.5 0 0 0 -0.75  2.5 0 0 0 -0.75  2.5 0 0 0 -0.75  0 0 0 0 1" result="C"/>
<feComposite in="AB" in2="C" operator="arithmetic" k1="0" k2="1" k3="0.12" k4="-0.06"/>
</filter>
<clipPath id="cS23"><rect x="384.3" y="284.2" width="54.10" height="53.80"/></clipPath>
<filter id="fL21m" x="19" y="27" width="38" height="32" filterUnits="userSpaceOnUse" color-interpolation-filters="sRGB">
<feTurbulence type="fractalNoise" baseFrequency="0.1" numOctaves="2" seed="31" result="lo"/>
<feColorMatrix in="lo" type="matrix" values="1 0 0 0 0 1 0 0 0 0 1 0 0 0 0 0 0 0 0 1"/>
<feComponentTransfer result="A"><feFuncR type="table" tableValues="0.565 0.565 0.565 0.565 0.565 0.565 0.565 0.565 0.565 0.565 0.565 0.565 0.565 0.565 0.565 0.571 0.578 0.584 0.591 0.597 0.604 0.613 0.622 0.631 0.641 0.650 0.659 0.659 0.659 0.659 0.659 0.659 0.659 0.659 0.659 0.659 0.659 0.659 0.659 0.659 0.659"/><feFuncG type="table" tableValues="0.188 0.188 0.188 0.188 0.188 0.188 0.188 0.188 0.188 0.188 0.188 0.188 0.188 0.188 0.188 0.195 0.201 0.208 0.214 0.221 0.227 0.239 0.251 0.263 0.275 0.286 0.298 0.298 0.298 0.298 0.298 0.298 0.298 0.298 0.298 0.298 0.298 0.298 0.298 0.298 0.298"/><feFuncB type="table" tableValues="0.627 0.627 0.627 0.627 0.627 0.627 0.627 0.627 0.627 0.627 0.627 0.627 0.627 0.627 0.627 0.633 0.638 0.643 0.648 0.654 0.659 0.667 0.675 0.682 0.690 0.698 0.706 0.706 0.706 0.706 0.706 0.706 0.706 0.706 0.706 0.706 0.706 0.706 0.706 0.706 0.706"/></feComponentTransfer>
<feTurbulence type="fractalNoise" baseFrequency="0.45" numOctaves="2" seed="81" result="hi"/>
<feColorMatrix in="hi" type="matrix" values="2.000 0 0 0 -0.500  2.500 0 0 0 -0.750  1.750 0 0 0 -0.375  0 0 0 0 1"/>
<feComponentTransfer><feFuncR type="table" tableValues="0.2 0.35 0.5 0.8 1"/><feFuncG type="table" tableValues="0.2 0.35 0.5 0.8 1"/><feFuncB type="table" tableValues="0.2 0.35 0.5 0.8 1"/></feComponentTransfer>
<feGaussianBlur stdDeviation="0.5" result="B"/>
<feComposite in="A" in2="B" operator="arithmetic" k1="0" k2="1" k3="0.6" k4="-0.300" result="AB"/>
<feTurbulence type="fractalNoise" baseFrequency="0.12" numOctaves="2" seed="121" result="mid"/>
<feColorMatrix in="mid" type="matrix" values="2.5 0 0 0 -0.75  2.5 0 0 0 -0.75  2.5 0 0 0 -0.75  0 0 0 0 1" result="C"/>
<feComposite in="AB" in2="C" operator="arithmetic" k1="0" k2="1" k3="0.1" k4="-0.05"/>
</filter>
<clipPath id="cL21m"><path d="M25,38L31,35L38,37L44,39L50,43L54,49L55,56L42,56L36,53L30,51L26,45Z"/></clipPath>
<filter id="b05" x="-50%" y="-50%" width="200%" height="200%"><feGaussianBlur stdDeviation="0.5"/></filter>
<filter id="b1" x="-50%" y="-50%" width="200%" height="200%"><feGaussianBlur stdDeviation="1"/></filter>
<filter id="b2" x="-50%" y="-50%" width="200%" height="200%"><feGaussianBlur stdDeviation="2"/></filter>
<filter id="b3" x="-50%" y="-50%" width="200%" height="200%"><feGaussianBlur stdDeviation="3"/></filter>
</defs>
<g clip-path="url(#cL11)"><rect x="43.5" y="228" width="57.00" height="55.70" filter="url(#fL11)"/><g transform="translate(44.5,229)">
<g filter="url(#b05)" fill="none" stroke="#7a48b8" stroke-width="1.6" stroke-linecap="round" stroke-linejoin="round" opacity="0.85">
<path d="M9.6,29.5L14.3,27.9L17.5,29.5L19.9,33.4"/>
<path d="M3,34L6.4,36"/>
<path d="M31.8,17.5L33.4,22.3L35,27L37.4,29.5L39.8,27.9"/>
<path d="M38,42L42,44L46,43"/>
</g>
<g filter="url(#b2)" fill="#efe6fa" opacity="0.55">
<ellipse cx="26" cy="11" rx="6" ry="5"/>
<ellipse cx="8" cy="21" rx="5" ry="5"/>
<ellipse cx="24" cy="41" rx="8" ry="6"/>
</g>
</g></g>
<g clip-path="url(#cL12)"><rect x="100" y="228" width="56.00" height="55.70" filter="url(#fL12)"/><g transform="translate(101,229)">
<g filter="url(#b2)">
<path d="M18,11L24,8L32,10L37,15L37,24L32,27L25,25L19,20Z" fill="#cc2266" opacity="0.75"/>
<path d="M20,24L28,26L30,29L24,30L19,28Z" fill="#c42068" opacity="0.5"/>
<ellipse cx="7" cy="21" rx="8" ry="8" fill="#7a3cb4" opacity="0.45"/>
<ellipse cx="42" cy="18" rx="5" ry="7" fill="#c8a8dc" opacity="0.4"/>
</g>
<g filter="url(#b05)">
<path d="M32.6,31L38.2,30.3L47.8,31.8L55,34.2L55,40.6L47.8,39.8L41.4,38.2L35.8,35.8L32.6,33.4Z" fill="#cc2258" opacity="0.9"/>
<path d="M38,33L46,34L52,36" stroke="#f090b0" stroke-width="0.8" fill="none" opacity="0.7"/>
</g>
<g filter="url(#b05)" fill="#f8f2fa">
<path d="M-1,-1L11.5,-1L-1,11Z"/>
<ellipse cx="32.3" cy="4.4" rx="3.2" ry="4.4"/>
<ellipse cx="43.5" cy="3" rx="4.2" ry="5"/>
<path d="M5.6,33.4L9.6,31.8L15.9,32.6L19.1,31L22.3,27.9L26.3,27.4L31,31L32.6,33.4L30.3,35.8L23.9,38.2L19.1,39.8L12.7,39L8,37.4L5.6,35Z"/>
</g>
<g filter="url(#b05)" fill="#c8a0d8" opacity="0.8">
<ellipse cx="24" cy="31.5" rx="2.5" ry="1.5"/>
<ellipse cx="14" cy="35" rx="2" ry="1.2"/>
</g>
</g></g>
<g clip-path="url(#cL13)"><rect x="155.5" y="228" width="56.50" height="55.70" filter="url(#fL13)"/><g transform="translate(156.5,229)">
<g filter="url(#b2)">
<path d="M0,5L14,5L12,24L0,26Z" fill="#9a40a8" opacity="0.45"/>
<path d="M14,2L55,0L55,9L14,10Z" fill="#a83c98" opacity="0.35"/>
<path d="M0,40L12,40L12,55L0,55Z" fill="#a84aa8" opacity="0.35"/>
</g>
<g filter="url(#b05)">
<path d="M-1,-1L26,-1L-1,6.5Z" fill="#fbf6fc"/>
<circle cx="40" cy="48.5" r="2.1" fill="#fcf8fc"/>
<circle cx="1.4" cy="19" r="1.2" fill="#501850"/>
<circle cx="53.5" cy="20" r="1" fill="#501850"/>
</g>
</g></g>
<g clip-path="url(#cL21)"><rect x="43.5" y="283.3" width="57.00" height="56.70" filter="url(#fL21)"/><g transform="translate(44.5,284.3)">
<g filter="url(#b1)">
<ellipse cx="27.6" cy="30.2" rx="7" ry="6" fill="#8a2a98" opacity="0.6"/>
<path d="M0,14L6,16L7,30L0,32Z" fill="#a040b0" opacity="0.3"/>
<ellipse cx="4" cy="7" rx="4" ry="3" fill="#9a38a8" opacity="0.5"/>
</g>
<g filter="url(#b05)">
<ellipse cx="27.8" cy="30.2" rx="5.4" ry="4.4" fill="#d862a8"/>
</g>
<g filter="url(#b05)"><rect x="20" y="28" width="36" height="30" filter="url(#fL21m)" clip-path="url(#cL21m)"/></g>
</g></g>
<g clip-path="url(#cL22)"><rect x="100" y="283.3" width="56.00" height="56.70" filter="url(#fL22)"/><g transform="translate(101,284.3)">
<g filter="url(#b1)">
<path d="M7,22L12,20L19,23L21,28L17,33L10,32L6,27Z" fill="#c42870" opacity="0.7"/>
<path d="M20,33L27,29L34,30L40,33L45,37L43,43L35,45L27,44L22,40Z" fill="#c41860" opacity="0.8"/>
<path d="M50,17L55,16L55,30L51,29Z" fill="#c01050" opacity="0.8"/>
</g>
<g filter="url(#b2)">
<ellipse cx="47" cy="48" rx="8" ry="7" fill="#b02078" opacity="0.55"/>
<ellipse cx="47" cy="9" rx="7" ry="6" fill="#a03090" opacity="0.4"/>
<ellipse cx="10" cy="44" rx="9" ry="8" fill="#c8a0e0" opacity="0.4"/>
</g>
<g filter="url(#b05)">
<path d="M-1,-1L11.3,-1L-1,9.7Z" fill="#fbf6fc"/>
</g>
</g></g>
<g clip-path="url(#cL23)"><rect x="155.5" y="283.3" width="56.50" height="56.70" filter="url(#fL23)"/><g transform="translate(156.5,284.3)">
<g filter="url(#b2)">
<path d="M0,4L18,4L16,22L0,26Z" fill="#9048b0" opacity="0.45"/>
<path d="M10,38L55,38L55,55L10,55Z" fill="#d02068" opacity="0.3"/>
</g>
<g filter="url(#b05)">
<path d="M-1,-1L19,-1L-1,5Z" fill="#fbf6fc"/>
</g>
</g></g>
<g clip-path="url(#cS11)"><rect x="271.8" y="228" width="56.60" height="55.50" filter="url(#fS11)"/><g transform="translate(272.8,229)">
<g filter="url(#b2)">
<path d="M5,16L12,8L22,7L30,10L36,8L43,12L44,20L40,26L41,34L36,42L27,46L17,45L9,39L5,29Z" fill="#6c3cd8" opacity="0.55"/>
<ellipse cx="21" cy="22" rx="5" ry="5" fill="#9a68e0" opacity="0.5"/>
<ellipse cx="30" cy="33" rx="6" ry="5" fill="#9064dc" opacity="0.35"/>
<path d="M0,0L16,0L16,9L0,9Z" fill="#7a44d4" opacity="0.4"/>
</g>
</g></g>
<g clip-path="url(#cS12)"><rect x="327.9" y="228" width="56.20" height="55.50" filter="url(#fS12)"/><g transform="translate(328.9,229)">
<g filter="url(#b2)">
<path d="M0,0L55,0L55,6L0,6Z" fill="#7a40c0" opacity="0.5"/>
<path d="M0,42L55,42L55,55L0,55Z" fill="#b070d8" opacity="0.35"/>
</g>
</g></g>
<g clip-path="url(#cS13)"><rect x="383.3" y="228" width="56.10" height="55.50" filter="url(#fS13)"/><g transform="translate(384.3,229)">
<g filter="url(#b3)">
<path d="M0,8L30,30L20,45L0,30Z" fill="#8a40c8" opacity="0.35"/>
<ellipse cx="45" cy="10" rx="10" ry="8" fill="#cc70dc" opacity="0.4"/>
</g>
</g></g>
<g clip-path="url(#cS21)"><rect x="271.8" y="283.2" width="56.60" height="55.80" filter="url(#fS21)"/><g transform="translate(272.8,284.2)">
<g filter="url(#b3)">
<path d="M0,0L55,0L55,16L36,22L18,30L0,34Z" fill="#5e30c4" opacity="0.6"/>
<path d="M0,42L30,36L55,28L55,55L0,55Z" fill="#c080d8" opacity="0.45"/>
</g>
</g></g>
<g clip-path="url(#cS22)"><rect x="327.9" y="283.2" width="56.20" height="55.80" filter="url(#fS22)"/></g>
<g clip-path="url(#cS23)"><rect x="383.3" y="283.2" width="56.10" height="55.80" filter="url(#fS23)"/><g transform="translate(384.3,284.2)">
<g filter="url(#b3)">
<ellipse cx="46" cy="44" rx="9" ry="9" fill="#9a48c0" opacity="0.4"/>
</g>
</g></g>
</svg>
</body></html>
